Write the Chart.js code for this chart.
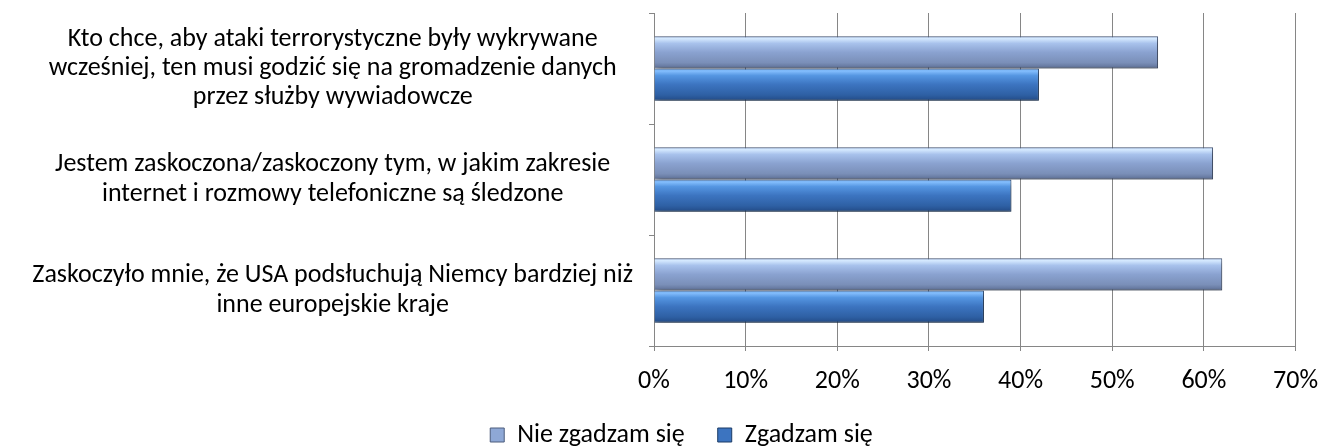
<!DOCTYPE html>
<html>
<head>
<meta charset="utf-8">
<script src="https://cdn.jsdelivr.net/npm/chart.js@4.4.1/dist/chart.umd.min.js"></script>
<style>
  html, body { margin: 0; padding: 0; background: #fff; }
  #wrap { width: 1333px; height: 448px; }
</style>
</head>
<body>
<div id="wrap"><canvas id="surveyChart" width="1333" height="448"></canvas></div>
<script>
const categories = [
    ['Kto chce, aby ataki terrorystyczne były wykrywane', 'wcześniej, ten musi godzić się na gromadzenie danych', 'przez służby wywiadowcze'],
    ['Jestem zaskoczona/zaskoczony tym, w jakim zakresie', 'internet i rozmowy telefoniczne są śledzone'],
    ['Zaskoczyło mnie, że USA podsłuchują Niemcy bardziej niż', 'inne europejskie kraje']
];
const seriesNames = ['Nie zgadzam się', 'Zgadzam się'];
const disagreeValues = [55, 61, 62];
const agreeValues = [42, 39, 36];
const xTickLabels = ['0%', '10%', '20%', '30%', '40%', '50%', '60%', '70%'];

const FONT = "Carlito, Calibri, 'Open Sans', sans-serif";
const FONT_SIZE = 26;
const CAT_PCT = 0.58;
const GRID = '#868686';
const LEGEND_PAD = 33;

// vertical bevel look of the old excel bars
const lightStops = [[0, '#8aa8d8'], [0.07, '#d6eaff'], [0.22, '#a8c2ec'], [0.5, '#8aa2d0'], [0.82, '#7a8fb8'], [0.93, '#687ba2'], [1, '#4c5c7c']];
const darkStops = [[0, '#3f7cc8'], [0.07, '#86c0ff'], [0.22, '#5596e2'], [0.5, '#3c74c0'], [0.82, '#2e60a4'], [0.93, '#275392'], [1, '#1b3b66']];

function barFill(stops, solid) {
    return (c) => {
        const chart = c.chart;
        const y = chart.scales.y;
        if (!y || c.dataIndex === undefined) return solid;
        const band = Math.abs(y.getPixelForValue(1) - y.getPixelForValue(0));
        const h = band * CAT_PCT / 2;
        const top = y.getPixelForValue(c.dataIndex) - h + c.datasetIndex * h;
        if (!isFinite(top) || !isFinite(h) || h <= 0) return solid;
        const g = chart.ctx.createLinearGradient(0, top, 0, top + h);
        stops.forEach(s => g.addColorStop(s[0], s[1]));
        return g;
    };
}

const shadowPlugin = {
    id: 'barShadow',
    beforeDatasetsDraw(chart) {
        const ctx = chart.ctx;
        ctx.save();
        ctx.shadowColor = 'rgba(0,0,0,0.38)';
        ctx.shadowBlur = 6;
        ctx.shadowOffsetX = 2;
        ctx.shadowOffsetY = 3;
    },
    afterDatasetsDraw(chart) {
        chart.ctx.restore();
    }
};

// legend only reserves 1px (maxHeight), so put it back under the tick labels
const legendMove = {
    id: 'legendMove',
    afterLayout(chart) {
        const lg = chart.legend;
        if (!lg) return;
        lg.top = 435 - LEGEND_PAD - FONT_SIZE / 2;
        lg.bottom = chart.height;
        lg.left += 28;
        lg.right += 28;
    }
};

new Chart(document.getElementById('surveyChart'), {
    type: 'bar',
    data: {
        labels: categories,
        datasets: [{
            label: seriesNames[0],
            data: disagreeValues,
            backgroundColor: barFill(lightStops, '#8aa2d0'),
            borderColor: '#4c5c7c',
            borderWidth: 1,
            categoryPercentage: CAT_PCT,
            barPercentage: 1
        }, {
            label: seriesNames[1],
            data: agreeValues,
            backgroundColor: barFill(darkStops, '#3c74c0'),
            borderColor: '#1b3b66',
            borderWidth: 1,
            categoryPercentage: CAT_PCT,
            barPercentage: 1
        }]
    },
    options: {
        indexAxis: 'y',
        responsive: false,
        animation: false,
        events: [],
        layout: { padding: { top: 13, right: 26, left: 0, bottom: 0 } },
        plugins: {
            tooltip: { enabled: false },
            legend: {
                position: 'bottom',
                maxHeight: 1,
                labels: {
                    font: { family: FONT, size: FONT_SIZE },
                    color: '#000',
                    boxWidth: 14,
                    boxHeight: 14,
                    padding: LEGEND_PAD,
                    generateLabels(chart) {
                        const fills = ['#8ea8d6', '#3c74c0'];
                        const edges = ['#4c5c7c', '#1b3b66'];
                        return chart.data.datasets.map((ds, i) => ({
                            text: ds.label,
                            fillStyle: fills[i],
                            strokeStyle: edges[i],
                            lineWidth: 1,
                            fontColor: '#000',
                            datasetIndex: i
                        }));
                    }
                }
            }
        },
        scales: {
            x: {
                min: 0,
                max: 70,
                ticks: {
                    stepSize: 10,
                    color: '#000',
                    padding: 15,
                    font: { family: FONT, size: FONT_SIZE, lineHeight: 1.2 },
                    callback: (v, i) => xTickLabels[i]
                },
                grid: { color: GRID, tickLength: 5 },
                border: { color: GRID },
                afterFit: (s) => { s.height = 101; }
            },
            y: {
                ticks: {
                    color: '#000',
                    crossAlign: 'center',
                    padding: 16,
                    font: { family: FONT, size: FONT_SIZE, lineHeight: 1.13 }
                },
                grid: { offset: true, drawOnChartArea: false, color: GRID, tickLength: 5 },
                border: { color: GRID },
                afterFit: (s) => {
                    s.width = 654;
                    s.paddingTop = 0;
                    s.paddingBottom = 0;
                }
            }
        }
    },
    plugins: [shadowPlugin, legendMove]
});
</script>
</body>
</html>
